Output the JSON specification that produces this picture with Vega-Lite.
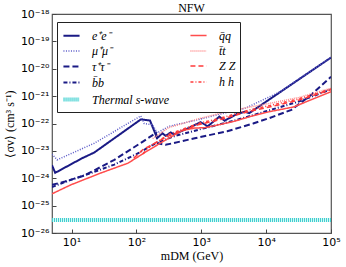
{
  "$schema": "https://vega.github.io/schema/vega-lite/v6.json",
  "width": 279,
  "height": 219,
  "autosize": {"type": "none"},
  "padding": {"left": 52, "top": 14, "right": 15, "bottom": 34},
  "background": "white",
  "title": {"text": "NFW", "font": "Liberation Serif", "fontSize": 12, "fontWeight": "normal", "offset": 0, "color": "black", "baseline": "bottom", "dy": 19},
  "config": {
    "view": {"stroke": "#555", "strokeWidth": 1.2},
    "axis": {"grid": false, "domain": false, "tickColor": "#444", "labelFont": "DejaVu Sans", "labelFontSize": 11, "labelColor": "black", "titleFont": "Liberation Serif", "titleFontSize": 12, "titleFontWeight": "normal", "titleColor": "black"},
    "legend": {"orient": "none", "legendX": 5, "legendY": 8, "strokeColor": "#222", "fillColor": "white", "padding": 4, "columns": 2, "columnPadding": 18, "rowPadding": 0, "symbolSize": 260, "symbolType": "stroke", "labelFont": "Liberation Serif", "labelFontSize": 12, "labelFontStyle": "italic", "labelColor": "black", "labelOffset": 10, "cornerRadius": 0}
  },
  "data": {"values": [
    {"s": "e⁺e⁻", "m": 5, "v": 3.0e-24},
    {"s": "e⁺e⁻", "m": 5.6, "v": 1.58e-24},
    {"s": "e⁺e⁻", "m": 14.6, "v": 5.4e-24},
    {"s": "e⁺e⁻", "m": 22.4, "v": 8.7e-24},
    {"s": "e⁺e⁻", "m": 117, "v": 1.41e-22},
    {"s": "e⁺e⁻", "m": 162, "v": 1.29e-22},
    {"s": "e⁺e⁻", "m": 209, "v": 2.9e-23},
    {"s": "e⁺e⁻", "m": 251, "v": 4.4e-23},
    {"s": "e⁺e⁻", "m": 282, "v": 3.55e-23},
    {"s": "e⁺e⁻", "m": 339, "v": 4.7e-23},
    {"s": "e⁺e⁻", "m": 380, "v": 4.0e-23},
    {"s": "e⁺e⁻", "m": 661, "v": 7.1e-23},
    {"s": "e⁺e⁻", "m": 977, "v": 1.12e-22},
    {"s": "e⁺e⁻", "m": 1259, "v": 7.9e-23},
    {"s": "e⁺e⁻", "m": 1905, "v": 1.78e-22},
    {"s": "e⁺e⁻", "m": 2291, "v": 1.26e-22},
    {"s": "e⁺e⁻", "m": 3548, "v": 2.24e-22},
    {"s": "e⁺e⁻", "m": 4677, "v": 2.69e-22},
    {"s": "e⁺e⁻", "m": 5495, "v": 2.4e-22},
    {"s": "e⁺e⁻", "m": 100000, "v": 2.57e-20},

    {"s": "μ⁺μ⁻", "m": 5, "v": 7.6e-24},
    {"s": "μ⁺μ⁻", "m": 6.0, "v": 4.7e-24},
    {"s": "μ⁺μ⁻", "m": 22.4, "v": 1.9e-23},
    {"s": "μ⁺μ⁻", "m": 117, "v": 1.9e-22},
    {"s": "μ⁺μ⁻", "m": 132, "v": 1.0e-22},
    {"s": "μ⁺μ⁻", "m": 178, "v": 8.9e-23},
    {"s": "μ⁺μ⁻", "m": 209, "v": 4.5e-23},
    {"s": "μ⁺μ⁻", "m": 316, "v": 7.9e-23},
    {"s": "μ⁺μ⁻", "m": 933, "v": 1.41e-22},
    {"s": "μ⁺μ⁻", "m": 1995, "v": 2.24e-22},
    {"s": "μ⁺μ⁻", "m": 4677, "v": 3.55e-22},
    {"s": "μ⁺μ⁻", "m": 15849, "v": 1.38e-21},
    {"s": "μ⁺μ⁻", "m": 100000, "v": 2.6e-20},

    {"s": "τ⁺τ⁻", "m": 5, "v": 5.75e-25},
    {"s": "τ⁺τ⁻", "m": 7.94, "v": 7.6e-25},
    {"s": "τ⁺τ⁻", "m": 15.8, "v": 1.26e-24},
    {"s": "τ⁺τ⁻", "m": 45.7, "v": 4.7e-24},
    {"s": "τ⁺τ⁻", "m": 126, "v": 2.19e-23},
    {"s": "τ⁺τ⁻", "m": 200, "v": 4.5e-23},
    {"s": "τ⁺τ⁻", "m": 214, "v": 1.9e-23},
    {"s": "τ⁺τ⁻", "m": 282, "v": 1.66e-23},
    {"s": "τ⁺τ⁻", "m": 794, "v": 2.9e-23},
    {"s": "τ⁺τ⁻", "m": 2512, "v": 5.2e-23},
    {"s": "τ⁺τ⁻", "m": 6310, "v": 1.0e-22},
    {"s": "τ⁺τ⁻", "m": 11220, "v": 1.58e-22},
    {"s": "τ⁺τ⁻", "m": 24547, "v": 3.16e-22},
    {"s": "τ⁺τ⁻", "m": 46774, "v": 1.0e-21},
    {"s": "τ⁺τ⁻", "m": 100000, "v": 5.1e-21},

    {"s": "b̄b", "m": 5, "v": 4.8e-25},
    {"s": "b̄b", "m": 9.77, "v": 8.7e-25},
    {"s": "b̄b", "m": 20, "v": 1.55e-24},
    {"s": "b̄b", "m": 45.7, "v": 3.16e-24},
    {"s": "b̄b", "m": 100, "v": 7.6e-24},
    {"s": "b̄b", "m": 200, "v": 1.9e-23},
    {"s": "b̄b", "m": 398, "v": 3.55e-23},
    {"s": "b̄b", "m": 1000, "v": 6.3e-23},
    {"s": "b̄b", "m": 3162, "v": 1.26e-22},
    {"s": "b̄b", "m": 10000, "v": 2.8e-22},
    {"s": "b̄b", "m": 31623, "v": 6.3e-22},
    {"s": "b̄b", "m": 100000, "v": 1.78e-21},

    {"s": "q̄q", "m": 5, "v": 2.7e-25},
    {"s": "q̄q", "m": 9.77, "v": 5.75e-25},
    {"s": "q̄q", "m": 28.2, "v": 1.55e-24},
    {"s": "q̄q", "m": 74.1, "v": 3.55e-24},
    {"s": "q̄q", "m": 141, "v": 9.3e-24},
    {"s": "q̄q", "m": 282, "v": 2.5e-23},
    {"s": "q̄q", "m": 513, "v": 5.6e-23},
    {"s": "q̄q", "m": 794, "v": 6.8e-23},
    {"s": "q̄q", "m": 1175, "v": 7.1e-23},
    {"s": "q̄q", "m": 3090, "v": 1.17e-22},
    {"s": "q̄q", "m": 5623, "v": 1.78e-22},
    {"s": "q̄q", "m": 11220, "v": 2.7e-22},
    {"s": "q̄q", "m": 26303, "v": 4.0e-22},
    {"s": "q̄q", "m": 100000, "v": 1.45e-21},

    {"s": "t̄t", "m": 178, "v": 2.8e-23},
    {"s": "t̄t", "m": 316, "v": 7.1e-23},
    {"s": "t̄t", "m": 1000, "v": 1.58e-22},
    {"s": "t̄t", "m": 1995, "v": 2.4e-22},
    {"s": "t̄t", "m": 5623, "v": 4.0e-22},
    {"s": "t̄t", "m": 11220, "v": 5.4e-22},
    {"s": "t̄t", "m": 31623, "v": 8.9e-22},
    {"s": "t̄t", "m": 100000, "v": 1.95e-21},

    {"s": "Z Z", "m": 91, "v": 5.4e-24},
    {"s": "Z Z", "m": 126, "v": 1.12e-23},
    {"s": "Z Z", "m": 200, "v": 2.0e-23},
    {"s": "Z Z", "m": 316, "v": 3.55e-23},
    {"s": "Z Z", "m": 891, "v": 8.9e-23},
    {"s": "Z Z", "m": 1995, "v": 1.41e-22},
    {"s": "Z Z", "m": 5623, "v": 2.8e-22},
    {"s": "Z Z", "m": 11220, "v": 4.0e-22},
    {"s": "Z Z", "m": 31623, "v": 7.1e-22},
    {"s": "Z Z", "m": 100000, "v": 1.7e-21},

    {"s": "h h", "m": 126, "v": 7.9e-24},
    {"s": "h h", "m": 158, "v": 1.41e-23},
    {"s": "h h", "m": 316, "v": 4.0e-23},
    {"s": "h h", "m": 891, "v": 1.0e-22},
    {"s": "h h", "m": 1995, "v": 1.58e-22},
    {"s": "h h", "m": 5623, "v": 3.16e-22},
    {"s": "h h", "m": 11220, "v": 4.5e-22},
    {"s": "h h", "m": 31623, "v": 7.9e-22},
    {"s": "h h", "m": 100000, "v": 1.82e-21},

    {"s": "Thermal s-wave", "m": 5, "v": 3e-26},
    {"s": "Thermal s-wave", "m": 100000, "v": 3e-26}
  ]},
  "mark": {"type": "line", "clip": true, "strokeCap": "butt"},
  "encoding": {
    "x": {"field": "m", "type": "quantitative", "scale": {"type": "log", "domain": [5, 100000], "nice": false},
      "axis": {"values": [10, 100, 1000, 10000, 100000], "labelExpr": "['10⁰','10¹','10²','10³','10⁴','10⁵'][round(log(datum.value)/LN10)]", "tickSize": -4, "labelPadding": 7, "title": "mDM (GeV)", "titlePadding": 3, "labelFlush": false}},
    "y": {"field": "v", "type": "quantitative", "scale": {"type": "log", "domain": [1e-26, 1e-18], "nice": false},
      "axis": {"values": [1e-26, 1e-25, 1e-24, 1e-23, 1e-22, 1e-21, 1e-20, 1e-19, 1e-18], "labelExpr": "['10⁻²⁶','10⁻²⁵','10⁻²⁴','10⁻²³','10⁻²²','10⁻²¹','10⁻²⁰','10⁻¹⁹','10⁻¹⁸'][round(log(datum.value)/LN10)+26]", "tickSize": -4, "labelPadding": 7, "title": "⟨σv⟩ (cm³ s⁻¹)", "titlePadding": 4, "labelFlush": false}},
    "color": {"field": "s", "type": "nominal",
      "scale": {"domain": ["e⁺e⁻", "μ⁺μ⁻", "τ⁺τ⁻", "b̄b", "Thermal s-wave", "q̄q", "t̄t", "Z Z", "h h"],
        "range": ["#1a1a85", "#5a5ac8", "#1a1a85", "#1a1a85", "#3fd0d0", "#ff4d4d", "#ff8a8a", "#ff3b3b", "#ff3b3b"]},
      "legend": {"title": null}},
    "strokeDash": {"field": "s", "type": "nominal",
      "scale": {"domain": ["e⁺e⁻", "μ⁺μ⁻", "τ⁺τ⁻", "b̄b", "Thermal s-wave", "q̄q", "t̄t", "Z Z", "h h"],
        "range": [[1, 0], [1, 1.5], [6, 3], [4, 2, 1, 2], [1.2, 0.8], [1, 0], [1, 1], [5, 3], [3, 2, 1, 2]]},
      "legend": {"title": null}},
    "strokeWidth": {"field": "s", "type": "nominal",
      "scale": {"type": "ordinal", "domain": ["e⁺e⁻", "μ⁺μ⁻", "τ⁺τ⁻", "b̄b", "Thermal s-wave", "q̄q", "t̄t", "Z Z", "h h"],
        "range": [2, 1.5, 2, 2, 4, 1.5, 1.5, 1.5, 1.5]},
      "legend": {"title": null}}
  }
}
